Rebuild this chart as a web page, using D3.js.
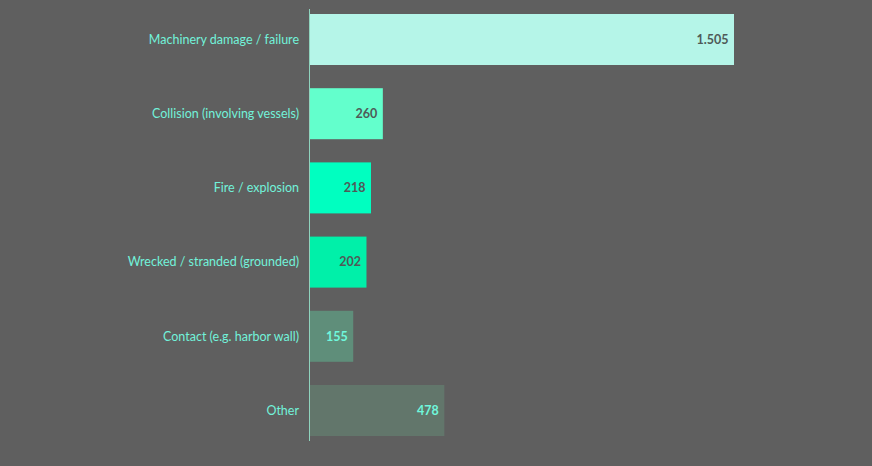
<!DOCTYPE html>
<html>
<head>
<meta charset="utf-8">
<script src="https://cdn.jsdelivr.net/npm/d3@7"></script>
<style>
  body { margin: 0; background: #5f5f5f; }
  svg { display: block; }
</style>
</head>
<body>
<svg id="chart" width="872" height="466"></svg>
<script>
// causes of claims and their counts
let categories = ["Machinery damage / failure", "Collision (involving vessels)", "Fire / explosion",
                  "Wrecked / stranded (grounded)", "Contact (e.g. harbor wall)", "Other"];
let values = [1505, 260, 218, 202, 155, 478];
let valueLabels = ["1.505", "260", "218", "202", "155", "478"];
let barColors = ["#b5f5e8", "#63ffcc", "#00ffc0", "#00f0a9", "#5f8e7a", "#62766b"];
let valueColors = ["#4f5a58", "#4f5a58", "#4f5a58", "#4f5a58", "#6ff7dc", "#6ff7dc"];

let x0 = 309.5;
let svg = d3.select("#chart");

let xScale = d3.scaleLinear()
  .domain([0, 1505])
  .range([x0, 734]);

let yScale = d3.scaleBand()
  .domain(categories)
  .range([14, 436])
  .paddingInner(0.3127)
  .paddingOuter(0);

let data = categories.map((c, i) => ({cat: c, v: values[i], label: valueLabels[i], i: i}));

svg.selectAll("rect.bar")
  .data(data)
  .enter().append("rect")
  .attr("class", "bar")
  .attr("x", x0)
  .attr("y", d => yScale(d.cat))
  .attr("width", d => xScale(d.v) - x0)
  .attr("height", yScale.bandwidth())
  .attr("fill", d => barColors[d.i]);

// category labels
svg.selectAll("text.cat")
  .data(data)
  .enter().append("text")
  .attr("class", "cat")
  .attr("x", 299)
  .attr("y", d => yScale(d.cat) + yScale.bandwidth() / 2)
  .attr("dy", "0.35em")
  .attr("text-anchor", "end")
  .attr("font-family", "Lato, sans-serif")
  .attr("font-size", 12.5)
  .attr("fill", "#72f2da")
  .text(d => d.cat);

// value labels inside bars
svg.selectAll("text.val")
  .data(data)
  .enter().append("text")
  .attr("class", "val")
  .attr("x", d => xScale(d.v) - 5.5)
  .attr("y", d => yScale(d.cat) + yScale.bandwidth() / 2)
  .attr("dy", "0.35em")
  .attr("text-anchor", "end")
  .attr("font-family", "Lato, sans-serif")
  .attr("font-size", 12.5)
  .attr("font-weight", "bold")
  .attr("fill", d => valueColors[d.i])
  .text(d => d.label);

// baseline
svg.append("line")
  .attr("x1", x0).attr("x2", x0)
  .attr("y1", 9).attr("y2", 441)
  .attr("stroke", "#8fd3bd")
  .attr("stroke-width", 1);
</script>
</body>
</html>
